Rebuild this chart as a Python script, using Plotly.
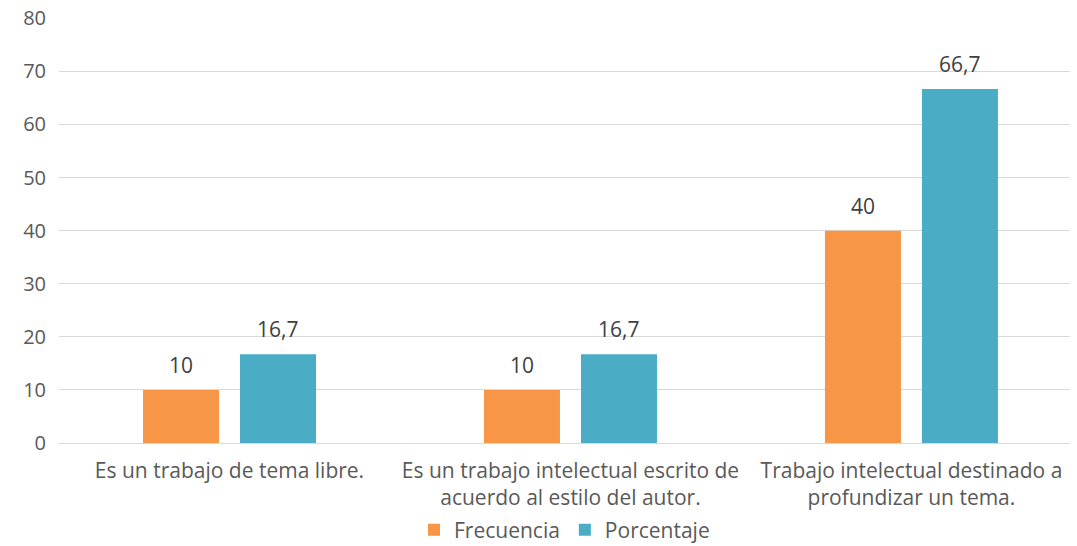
import plotly.graph_objects as go

categories = ["Es un trabajo de tema libre.",
              "Es un trabajo intelectual escrito de<br>acuerdo al estilo del autor.",
              "Trabajo intelectual destinado a<br>profundizar un tema."]
frecuencia = [10, 10, 40]
porcentaje = [16.7, 16.7, 66.7]

text_color = "#595959"
label_color = "#404040"
font_family = "Open Sans"
fs = 21

series = [("Frecuencia", frecuencia, "#F79646", -48.5),
          ("Porcentaje", porcentaje, "#4BACC6", 48.5)]

fig = go.Figure()
for name, vals, color, shift in series:
    fig.add_trace(go.Bar(x=categories, y=vals, name=name,
                         marker=dict(color=color, line=dict(width=0))))
    for cat, v in zip(categories, vals):
        fig.add_annotation(x=cat, y=v, xref="x", yref="y",
                           text=f"{v:g}".replace(".", ","),
                           showarrow=False, xshift=shift, yshift=25,
                           yanchor="middle", xanchor="center",
                           font=dict(size=fs, color=label_color, family=font_family))

fig.update_layout(
    width=1077, height=546,
    margin=dict(l=59, r=7, t=18, b=103, autoexpand=False),
    paper_bgcolor="white", plot_bgcolor="white",
    separators=",.",
    barmode="group", bargap=0.431, bargroupgap=0.2165,
    font=dict(family=font_family, size=fs, color=text_color),
    showlegend=True,
    legend=dict(orientation="h", x=0.5, xanchor="center", y=-0.205, yanchor="middle",
                font=dict(size=fs, color=text_color), traceorder="normal",
                itemwidth=30),
    xaxis=dict(range=[-0.5, 2.465], showgrid=False, showline=False, ticks="",
               automargin=False, ticklabelstandoff=13,
               tickfont=dict(size=fs, color=text_color)),
    yaxis=dict(range=[0, 80.05], tickvals=[0, 10, 20, 30, 40, 50, 60, 70, 80],
               showgrid=True, gridcolor="#D9D9D9", gridwidth=1,
               zeroline=True, zerolinecolor="#D9D9D9", zerolinewidth=1,
               showline=False, ticks="", ticklabelstandoff=12, automargin=False,
               tickfont=dict(size=20, color=text_color)),
)

fig.write_html("out.html", config={"displayModeBar": False},
               post_script="document.body.style.margin='0';")
